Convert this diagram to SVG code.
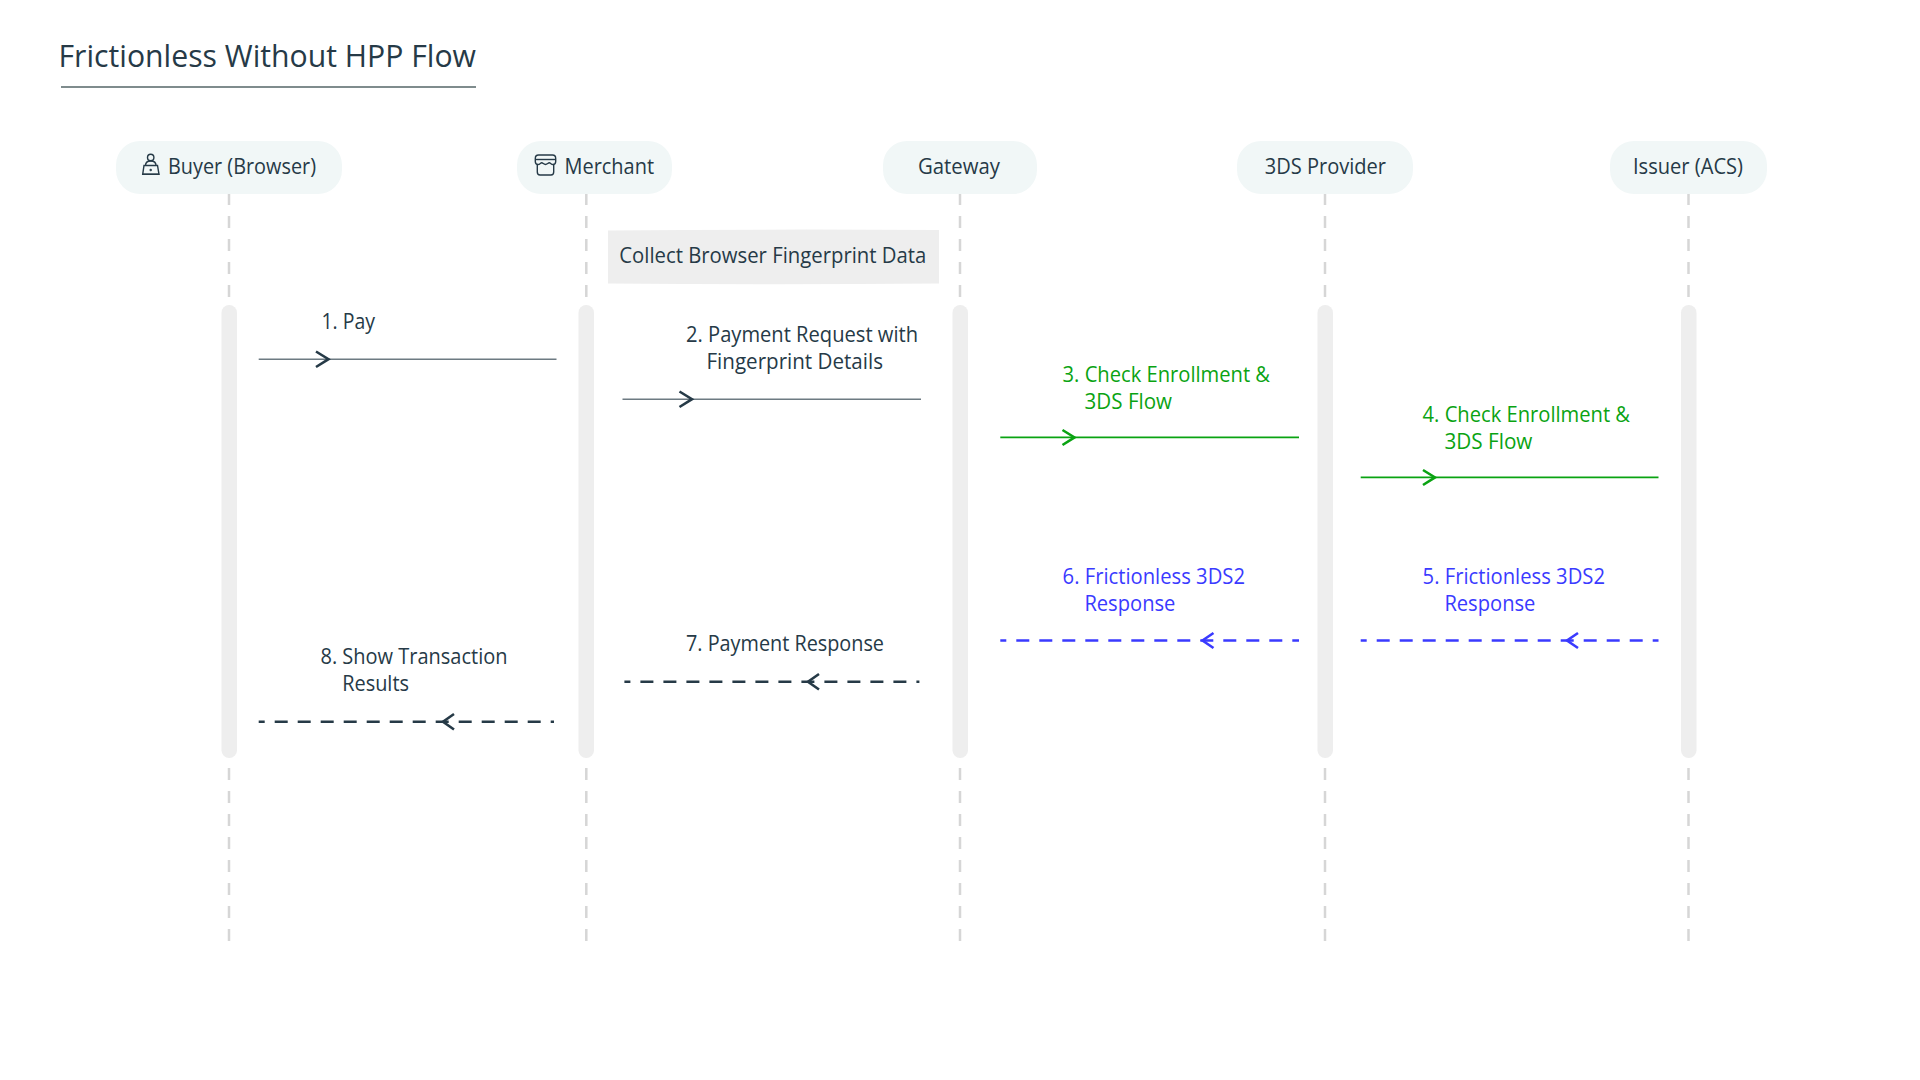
<svg xmlns="http://www.w3.org/2000/svg" width="1920" height="1080" viewBox="0 0 1920 1080">
<style>
text{font-family:"Open Sans","Noto Sans","Liberation Sans",sans-serif;font-size:21.5px;fill:#263a47}
.title{font-size:31px}
.g{fill:#0aa312}.b{fill:#3a3aff}
.pill{fill:#f1f7f7}
.bar{fill:#eeeeee}
.life{stroke:#d6d6d6;stroke-width:2.5;stroke-dasharray:12 11;fill:none}
.line{stroke-width:1.6;fill:none}
.dash{stroke-width:2.4;stroke-dasharray:13 10;stroke-dashoffset:7;fill:none}
.chev{stroke-width:2.6;fill:none}
.ink{stroke:#263a47}.solid{stroke:#6d7a82}.gs{stroke:#0aa312}.bs{stroke:#3a3aff}
.icon{stroke:#263a47;stroke-width:1.4;fill:none}
</style>
<rect width="1920" height="1080" fill="#fff"/>
<g id="title">
<text class="title" x="58.5" y="67" textLength="417.5" lengthAdjust="spacingAndGlyphs">Frictionless Without HPP Flow</text>
<line x1="61" y1="87" x2="476" y2="87" stroke="#7f8c8d" stroke-width="2"/>
</g>
<g id="lifelines">
<path class="life" d="M229 193V298M229 768V942M586.3 193V298M586.3 768V942M960 193V298M960 768V942M1325 193V298M1325 768V942M1688.5 193V298M1688.5 768V942"/>
<rect class="bar" x="221.5" y="305" width="15.5" height="453" rx="7.7"/>
<rect class="bar" x="578.5" y="305" width="15.5" height="453" rx="7.7"/>
<rect class="bar" x="952.5" y="305" width="15.5" height="453" rx="7.7"/>
<rect class="bar" x="1317.5" y="305" width="15.5" height="453" rx="7.7"/>
<rect class="bar" x="1681" y="305" width="15.5" height="453" rx="7.7"/>
</g>
<g id="node-buyer">
<rect class="pill" x="116" y="141" width="226" height="53" rx="24"/>
<g class="icon">
<circle cx="150.7" cy="157.5" r="3.2"/>
<path d="M145.5 165.5C145.5 162.5 147.5 161 150.7 161S156 162.5 156 165.5"/>
<path d="M144 165.5H157.5L159 174.3H142.7Z"/>
<path d="M142.5 174.3H159.2"/>
<circle cx="150.7" cy="170" r=".5"/>
</g>
<text x="168" y="174.3" textLength="148" lengthAdjust="spacingAndGlyphs">Buyer (Browser)</text>
</g>
<g id="node-merchant">
<rect class="pill" x="517" y="141" width="155" height="53" rx="24"/>
<g class="icon">
<path d="M538.5 155H552.5C554.5 155 555.7 156.5 555.7 158.5V161.5C555.7 163.5 554.5 164.5 553 164.5C551 164.5 550.5 162.8 549.3 162.8C548 162.8 547.3 164.5 545.5 164.5C543.7 164.5 543 162.8 541.7 162.8C540.5 162.8 540 164.5 538 164.5C536.5 164.5 535.3 163.5 535.3 161.5V158.5C535.3 156.5 536.5 155 538.5 155Z"/>
<path d="M535.5 159.5H555.5"/>
<path d="M537.3 165V172C537.3 174 538.3 175 540 175H551C552.7 175 553.7 174 553.7 172V165"/>
</g>
<text x="564.5" y="174.3" textLength="89.5" lengthAdjust="spacingAndGlyphs">Merchant</text>
</g>
<g id="node-gateway">
<rect class="pill" x="883" y="141" width="154" height="53" rx="24"/>
<text x="918" y="174.3" textLength="82" lengthAdjust="spacingAndGlyphs">Gateway</text>
</g>
<g id="node-3ds">
<rect class="pill" x="1237" y="141" width="176" height="53" rx="24"/>
<text x="1264.7" y="174.3" textLength="121.3" lengthAdjust="spacingAndGlyphs">3DS Provider</text>
</g>
<g id="node-issuer">
<rect class="pill" x="1610" y="141" width="157" height="53" rx="24"/>
<text x="1633" y="174.3" textLength="110" lengthAdjust="spacingAndGlyphs">Issuer (ACS)</text>
</g>
<g id="note-collect">
<path class="bar" d="M608 230.5Q773 229 939 230V283.5Q773 285 608 283.5Z"/>
<text x="619.3" y="263" textLength="307" lengthAdjust="spacingAndGlyphs">Collect Browser Fingerprint Data</text>
</g>
<g id="connectors">
<line class="line solid" x1="258.7" y1="359.2" x2="556.5" y2="359.2"/>
<path class="chev ink" d="M316 351.5L328.5 359.2L316 367"/>
<line class="line solid" x1="622.5" y1="399.2" x2="921" y2="399.2"/>
<path class="chev ink" d="M679.5 391.5L692 399.2L679.5 407"/>
<line class="line gs" x1="1000.3" y1="437.4" x2="1299" y2="437.4"/>
<path class="chev gs" d="M1062.5 430L1074.5 437.4L1062.5 445"/>
<line class="line gs" x1="1360.7" y1="477.4" x2="1658.5" y2="477.4"/>
<path class="chev gs" d="M1423 470L1435 477.4L1423 485"/>
<line class="dash bs" x1="1000.3" y1="640.5" x2="1299" y2="640.5"/>
<path class="chev bs" d="M1213.5 633L1202.5 640.5L1213.5 648"/>
<line class="dash bs" x1="1360.7" y1="640.5" x2="1658.5" y2="640.5"/>
<path class="chev bs" d="M1578 633L1567 640.5L1578 648"/>
<line class="dash ink" x1="624.4" y1="681.7" x2="919.4" y2="681.7"/>
<path class="chev ink" d="M819 674L808 681.7L819 689.5"/>
<line class="dash ink" x1="258.7" y1="721.7" x2="554" y2="721.7"/>
<path class="chev ink" d="M454 714L443 721.7L454 729.5"/>
</g>
<g id="labels">
<text x="321.4" y="329" textLength="53.6" lengthAdjust="spacingAndGlyphs">1. Pay</text>
<text x="686" y="341.7" textLength="232" lengthAdjust="spacingAndGlyphs">2. Payment Request with</text>
<text x="706.5" y="369" textLength="176.5" lengthAdjust="spacingAndGlyphs">Fingerprint Details</text>
<text class="g" x="1062.6" y="381.7" textLength="207.4" lengthAdjust="spacingAndGlyphs">3. Check Enrollment &amp;</text>
<text class="g" x="1084.6" y="409.3" textLength="87.4" lengthAdjust="spacingAndGlyphs">3DS Flow</text>
<text class="g" x="1422.6" y="421.7" textLength="207.4" lengthAdjust="spacingAndGlyphs">4. Check Enrollment &amp;</text>
<text class="g" x="1444.4" y="449.3" textLength="88" lengthAdjust="spacingAndGlyphs">3DS Flow</text>
<text class="b" x="1422.6" y="584.3" textLength="182.4" lengthAdjust="spacingAndGlyphs">5. Frictionless 3DS2</text>
<text class="b" x="1444.4" y="610.7" textLength="91" lengthAdjust="spacingAndGlyphs">Response</text>
<text class="b" x="1062.6" y="584.3" textLength="182.4" lengthAdjust="spacingAndGlyphs">6. Frictionless 3DS2</text>
<text class="b" x="1084.4" y="610.7" textLength="91" lengthAdjust="spacingAndGlyphs">Response</text>
<text x="686" y="650.7" textLength="198" lengthAdjust="spacingAndGlyphs">7. Payment Response</text>
<text x="320.5" y="664.3" textLength="187" lengthAdjust="spacingAndGlyphs">8. Show Transaction</text>
<text x="342.2" y="690.7" textLength="66.8" lengthAdjust="spacingAndGlyphs">Results</text>
</g>
</svg>
